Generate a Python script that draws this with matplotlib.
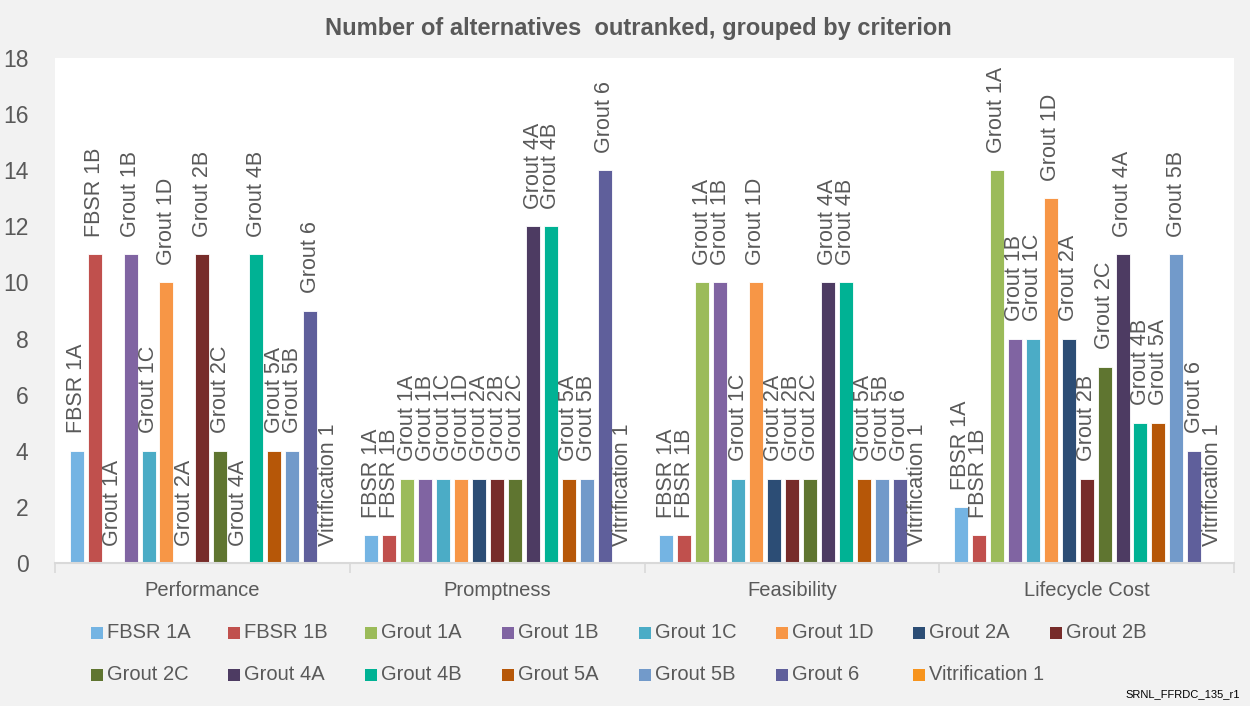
import numpy as np
import matplotlib
matplotlib.use("Agg")
import matplotlib.pyplot as plt
from matplotlib.patches import Rectangle

plt.rcParams['font.family'] = ['Liberation Sans Narrow', 'Liberation Sans', 'DejaVu Sans']

# alternatives (series) and criteria (groups)
alternatives = ['FBSR 1A', 'FBSR 1B', 'Grout 1A', 'Grout 1B', 'Grout 1C', 'Grout 1D',
                'Grout 2A', 'Grout 2B', 'Grout 2C', 'Grout 4A', 'Grout 4B', 'Grout 5A',
                'Grout 5B', 'Grout 6', 'Vitrification 1']
criteria = ['Performance', 'Promptness', 'Feasibility', 'Lifecycle Cost']

# number of alternatives outranked, per alternative
performance = [4, 11, 0, 11, 4, 10, 0, 11, 4, 0, 11, 4, 4, 9, 0]
promptness = [1, 1, 3, 3, 3, 3, 3, 3, 3, 12, 12, 3, 3, 14, 0]
feasibility = [1, 1, 10, 10, 3, 10, 3, 3, 3, 10, 10, 3, 3, 3, 0]
lifecycle_cost = [2, 1, 14, 8, 8, 13, 8, 3, 7, 11, 5, 5, 11, 4, 0]

colors = ['#74B4E3', '#C0504D', '#9BBB59', '#8064A2', '#4BACC6', '#F79646',
          '#2C4D75', '#772C2A', '#5F7530', '#4D3B62', '#00B294', '#B65708',
          '#729ACA', '#5F5F9B', '#F7941D']

text_grey = '#595959'
bg = '#F2F2F2'

values = np.array([performance, promptness, feasibility, lifecycle_cost])  # (criteria, alternatives)

W, H = 1250, 706
fig = plt.figure(figsize=(12.5, 7.06), dpi=100, facecolor=bg)
ax = fig.add_axes([55 / W, (H - 563) / H, (1234 - 55) / W, (563 - 58) / H])
ax.set_facecolor('white')

n = len(alternatives)
step = 0.0609
bar_w = 0.0476
start = -0.5 + (1 - n * step) / 2
groups = np.arange(len(criteria))

for i, name in enumerate(alternatives):
    xs = groups + start + (i + 0.5) * step
    ax.bar(xs, values[:, i], width=bar_w, color=colors[i], edgecolor='white', linewidth=0.6)
    for x, v in zip(xs, values[:, i]):
        ax.annotate(name, (x, v), xytext=(0, 12.5), textcoords='offset points',
                    rotation=90, ha='center', va='bottom', fontsize=15.5, color=text_grey)

ax.set_xlim(-0.5, len(criteria) - 0.5)
ax.set_ylim(0, 18)
ax.set_yticks(np.arange(0, 19, 2))
ax.tick_params(axis='y', length=0, pad=19, labelsize=16.5, labelcolor=text_grey)

ax.set_xticks(groups)
ax.set_xticklabels(criteria)
ax.tick_params(axis='x', which='major', length=0, pad=13, labelsize=14.5, labelcolor=text_grey)
ax.set_xticks(np.arange(-0.5, len(criteria)), minor=True)
ax.tick_params(axis='x', which='minor', length=7, width=1.2, color='#D9D9D9')

for side in ['top', 'right', 'left']:
    ax.spines[side].set_visible(False)
ax.spines['bottom'].set_color('#D9D9D9')
ax.spines['bottom'].set_linewidth(1.5)

fig.text(638 / W, 1 - 29 / H, 'Number of alternatives  outranked, grouped by criterion',
         ha='center', va='center', fontsize=17, fontweight='bold', color=text_grey)

# legend laid out on a fixed grid, eight entries per row
for i, name in enumerate(alternatives):
    row, col = divmod(i, 8)
    x0 = 91 + col * 137
    yc = 633 + row * 42
    fig.add_artist(Rectangle((x0 / W, 1 - (yc + 6) / H), 12 / W, 12 / H,
                             transform=fig.transFigure, facecolor=colors[i], edgecolor='none'))
    fig.text((x0 + 16) / W, 1 - yc / H, name, ha='left', va='center',
             fontsize=14.5, color=text_grey)

fig.text(1240 / W, 1 - 694 / H, 'SRNL_FFRDC_135_r1', ha='right', va='center',
         fontsize=8, color='black')

fig.savefig('out.png', dpi=100, facecolor=bg)
